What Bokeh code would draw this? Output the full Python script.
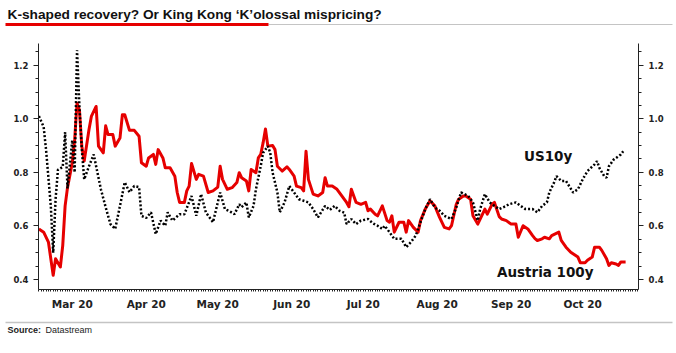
import pandas as pd
from bokeh.plotting import figure
from bokeh.layouts import column
from bokeh.models import (Range1d, LinearAxis, FixedTicker, SingleIntervalTicker,
                          PrintfTickFormatter, Label)
from bokeh.core.properties import value
from bokeh.embed import file_html
from bokeh.resources import INLINE

# ---------------- data ----------------
title_text = "K-shaped recovery? Or King Kong \u2018K\u2019olossal mispricing?"
source_label = "Source:"
source_name = "Datastream"
series_names = ["US10y", "Austria 100y"]

month_labels = ["Mar 20", "Apr 20", "May 20", "Jun 20", "Jul 20", "Aug 20", "Sep 20", "Oct 20"]
month_label_dates = ["2020-03-16", "2020-04-16", "2020-05-16", "2020-06-16",
                     "2020-07-16", "2020-08-16", "2020-09-16", "2020-10-16"]

us_dates = [
    "2020-03-02", "2020-03-04", "2020-03-05", "2020-03-07", "2020-03-08", "2020-03-09", "2020-03-10", "2020-03-12", "2020-03-13", "2020-03-14",
    "2020-03-16", "2020-03-17", "2020-03-18", "2020-03-19", "2020-03-20", "2020-03-21", "2020-03-23", "2020-03-25", "2020-03-26", "2020-03-28",
    "2020-03-30", "2020-04-01", "2020-04-03", "2020-04-05", "2020-04-07", "2020-04-09", "2020-04-11", "2020-04-13", "2020-04-14", "2020-04-16",
    "2020-04-18", "2020-04-20", "2020-04-22", "2020-04-24", "2020-04-25", "2020-04-27", "2020-04-30", "2020-05-02", "2020-05-05", "2020-05-07",
    "2020-05-09", "2020-05-11", "2020-05-14", "2020-05-17", "2020-05-19", "2020-05-21", "2020-05-23", "2020-05-25", "2020-05-26", "2020-05-28",
    "2020-05-29", "2020-05-31", "2020-06-01", "2020-06-03", "2020-06-04", "2020-06-06", "2020-06-07", "2020-06-08", "2020-06-10", "2020-06-11",
    "2020-06-13", "2020-06-15", "2020-06-17", "2020-06-19", "2020-06-21", "2020-06-23", "2020-06-25", "2020-06-27", "2020-06-30", "2020-07-02",
    "2020-07-04", "2020-07-06", "2020-07-08", "2020-07-09", "2020-07-11", "2020-07-13", "2020-07-15", "2020-07-18", "2020-07-20", "2020-07-22",
    "2020-07-24", "2020-07-25", "2020-07-27", "2020-07-29", "2020-08-01", "2020-08-03", "2020-08-05", "2020-08-07", "2020-08-09", "2020-08-11",
    "2020-08-13", "2020-08-15", "2020-08-17", "2020-08-19", "2020-08-22", "2020-08-24", "2020-08-26", "2020-08-29", "2020-08-31", "2020-09-02",
    "2020-09-03", "2020-09-05", "2020-09-07", "2020-09-09", "2020-09-11", "2020-09-14", "2020-09-15", "2020-09-18", "2020-09-20", "2020-09-22",
    "2020-09-25", "2020-09-27", "2020-09-29", "2020-10-01", "2020-10-02", "2020-10-04", "2020-10-05", "2020-10-07", "2020-10-09", "2020-10-12",
    "2020-10-14", "2020-10-16", "2020-10-18", "2020-10-21", "2020-10-22", "2020-10-23", "2020-10-25", "2020-10-26", "2020-10-27", "2020-10-29",
    "2020-10-30", "2020-11-01", "2020-11-02",
]
us10y = [
    1.01, 0.97, 0.885, 0.675, 0.50, 0.70, 0.81, 0.82, 0.95, 0.74,
    0.92, 0.80, 1.256, 1.046, 0.885, 0.774, 0.823, 0.867, 0.823, 0.737,
    0.67, 0.607, 0.589, 0.675, 0.763, 0.726, 0.749, 0.745, 0.638, 0.63,
    0.651, 0.57, 0.62, 0.601, 0.651, 0.62, 0.644, 0.644, 0.712, 0.638,
    0.719, 0.651, 0.614, 0.725, 0.663, 0.655, 0.644, 0.681, 0.67, 0.688,
    0.632, 0.675, 0.737, 0.823, 0.873, 0.898, 0.873, 0.799, 0.725, 0.651,
    0.688, 0.749, 0.725, 0.70, 0.694, 0.688, 0.663, 0.632, 0.675, 0.66,
    0.675, 0.657, 0.65, 0.607, 0.626, 0.607, 0.62, 0.626, 0.61, 0.601,
    0.589, 0.601, 0.577, 0.552, 0.552, 0.521, 0.54, 0.564, 0.614, 0.663,
    0.70, 0.669, 0.657, 0.638, 0.626, 0.669, 0.725, 0.712, 0.688, 0.62,
    0.663, 0.719, 0.688, 0.675, 0.663, 0.675, 0.681, 0.688, 0.675, 0.663,
    0.663, 0.651, 0.675, 0.688, 0.725, 0.762, 0.786, 0.768, 0.768, 0.725,
    0.737, 0.774, 0.805, 0.83, 0.842, 0.817, 0.786, 0.78, 0.823, 0.848,
    0.854, 0.867, 0.879,
]

at_dates = [
    "2020-03-02", "2020-03-04", "2020-03-06", "2020-03-07", "2020-03-08", "2020-03-09", "2020-03-11", "2020-03-12", "2020-03-13", "2020-03-14",
    "2020-03-16", "2020-03-17", "2020-03-18", "2020-03-19", "2020-03-20", "2020-03-21", "2020-03-23", "2020-03-24", "2020-03-26", "2020-03-27",
    "2020-03-29", "2020-03-30", "2020-03-31", "2020-04-02", "2020-04-03", "2020-04-05", "2020-04-06", "2020-04-07", "2020-04-09", "2020-04-11",
    "2020-04-13", "2020-04-14", "2020-04-16", "2020-04-17", "2020-04-19", "2020-04-20", "2020-04-21", "2020-04-23", "2020-04-24", "2020-04-26",
    "2020-04-28", "2020-04-29", "2020-04-30", "2020-05-02", "2020-05-03", "2020-05-04", "2020-05-05", "2020-05-07", "2020-05-08", "2020-05-10",
    "2020-05-12", "2020-05-14", "2020-05-16", "2020-05-17", "2020-05-18", "2020-05-20", "2020-05-22", "2020-05-24", "2020-05-25", "2020-05-26",
    "2020-05-28", "2020-05-29", "2020-05-30", "2020-06-01", "2020-06-02", "2020-06-03", "2020-06-04", "2020-06-05", "2020-06-06", "2020-06-08",
    "2020-06-09", "2020-06-10", "2020-06-12", "2020-06-14", "2020-06-15", "2020-06-17", "2020-06-18", "2020-06-20", "2020-06-21", "2020-06-22",
    "2020-06-23", "2020-06-25", "2020-06-27", "2020-06-29", "2020-06-30", "2020-07-01", "2020-07-03", "2020-07-05", "2020-07-07", "2020-07-09",
    "2020-07-10", "2020-07-11", "2020-07-13", "2020-07-15", "2020-07-17", "2020-07-18", "2020-07-19", "2020-07-21", "2020-07-22", "2020-07-24",
    "2020-07-26", "2020-07-27", "2020-07-28", "2020-07-29", "2020-07-31", "2020-08-02", "2020-08-03", "2020-08-04", "2020-08-06", "2020-08-08",
    "2020-08-09", "2020-08-11", "2020-08-13", "2020-08-15", "2020-08-17", "2020-08-19", "2020-08-21", "2020-08-22", "2020-08-24", "2020-08-25",
    "2020-08-27", "2020-08-28", "2020-08-30", "2020-08-31", "2020-09-02", "2020-09-03", "2020-09-05", "2020-09-06", "2020-09-08", "2020-09-09",
    "2020-09-11", "2020-09-12", "2020-09-14", "2020-09-16", "2020-09-18", "2020-09-19", "2020-09-21", "2020-09-23", "2020-09-25", "2020-09-26",
    "2020-09-27", "2020-09-29", "2020-09-30", "2020-10-02", "2020-10-03", "2020-10-06", "2020-10-07", "2020-10-09", "2020-10-11", "2020-10-14",
    "2020-10-15", "2020-10-17", "2020-10-18", "2020-10-20", "2020-10-21", "2020-10-23", "2020-10-24", "2020-10-26", "2020-10-27", "2020-10-28",
    "2020-10-30", "2020-10-31", "2020-11-01", "2020-11-03",
]
austria100y = [
    0.589, 0.577, 0.54, 0.478, 0.416, 0.478, 0.447, 0.527, 0.675, 0.743,
    0.836, 0.922, 1.058, 1.033, 0.898, 0.842, 0.959, 1.009, 1.046, 0.898,
    0.873, 0.974, 0.941, 0.941, 0.898, 0.928, 1.015, 1.015, 0.957, 0.957,
    0.935, 0.836, 0.823, 0.854, 0.867, 0.83, 0.885, 0.854, 0.817, 0.817,
    0.786, 0.725, 0.688, 0.688, 0.731, 0.749, 0.833, 0.774, 0.793, 0.786,
    0.725, 0.731, 0.745, 0.823, 0.774, 0.737, 0.743, 0.762, 0.799, 0.78,
    0.768, 0.731, 0.811, 0.799, 0.854, 0.867, 0.91, 0.962, 0.898, 0.90,
    0.885, 0.823, 0.805, 0.821, 0.811, 0.786, 0.749, 0.743, 0.731, 0.879,
    0.774, 0.719, 0.712, 0.725, 0.78, 0.749, 0.749, 0.737, 0.712, 0.688,
    0.672, 0.737, 0.688, 0.681, 0.688, 0.657, 0.663, 0.644, 0.638, 0.675,
    0.62, 0.614, 0.638, 0.577, 0.614, 0.614, 0.577, 0.62, 0.595, 0.577,
    0.62, 0.663, 0.694, 0.675, 0.632, 0.595, 0.589, 0.601, 0.681, 0.70,
    0.712, 0.712, 0.70, 0.638, 0.607, 0.626, 0.663, 0.644, 0.681, 0.688,
    0.635, 0.626, 0.62, 0.607, 0.607, 0.558, 0.601, 0.589, 0.564, 0.553,
    0.546, 0.552, 0.558, 0.552, 0.564, 0.577, 0.546, 0.521, 0.502, 0.484,
    0.463, 0.463, 0.472, 0.484, 0.521, 0.521, 0.509, 0.478, 0.453, 0.463,
    0.458, 0.453, 0.466, 0.466,
]

# ---------------- styling ----------------
RED = "#e60000"
GREY = "#c4c4c4"
W = 676
origin = pd.Timestamp("2020-03-01")


def to_days(dates):
    return list((pd.to_datetime(dates) - origin) / pd.Timedelta(days=1))


us_x = to_days(us_dates)
at_x = to_days(at_dates)
tick_x = [int(v) for v in to_days(month_label_dates)]


def strip(height):
    f = figure(width=W, height=height, x_range=Range1d(0, W), y_range=Range1d(height, 0),
               min_border=0, toolbar_location=None, output_backend="svg",
               x_axis_location=None, y_axis_location=None, frame_align=False)
    f.grid.visible = False
    f.outline_line_color = None
    return f


# ---- header strip ----
top = strip(36)
top.text(x=[7], y=[14], text=[title_text], text_font=value("Liberation Sans"),
         text_font_style="bold", text_font_size="13.7px", text_baseline="middle",
         text_color="#111111")
top.segment(x0=[268], y0=[24], x1=[672], y1=[24], line_color=GREY, line_width=1)
top.segment(x0=[5], y0=[24], x1=[268], y1=[24], line_color=RED, line_width=3)

# ---- main chart ----
p = figure(width=W, height=276, x_range=Range1d(0.84, 252.4), y_range=Range1d(0.363, 1.281),
           toolbar_location=None, output_backend="svg", frame_align=False,
           min_border_left=38, min_border_right=38, min_border_top=7, min_border_bottom=22)
p.grid.visible = False
p.outline_line_color = None

p.line(at_x, austria100y, line_color=RED, line_width=3, line_join="round")
p.line(us_x, us10y, line_color="black", line_width=2.5, line_dash="2 2")

p.add_layout(LinearAxis(), "right")
for ax in p.yaxis:
    ax.ticker = SingleIntervalTicker(interval=0.2, num_minor_ticks=4)
    ax.formatter = PrintfTickFormatter(format="%.1f")
    ax.major_tick_in = 0
    ax.major_tick_out = 5
    ax.minor_tick_in = 0
    ax.minor_tick_out = 3
    ax.major_label_standoff = 5
    ax.axis_line_color = "#222222"
    ax.major_tick_line_color = "#222222"
    ax.minor_tick_line_color = "#222222"
    ax.major_label_text_font = "DejaVu Sans"
    ax.major_label_text_font_style = "bold"
    ax.major_label_text_font_size = "8.5px"
    ax.major_label_text_color = "#222222"

xa = p.xaxis[0]
xa.ticker = FixedTicker(ticks=tick_x, minor_ticks=list(range(0, 253)))
xa.major_label_overrides = {t: lab for t, lab in zip(tick_x, month_labels)}
xa.major_tick_in = 0
xa.major_tick_out = 0
xa.minor_tick_in = 0
xa.minor_tick_out = 2
xa.major_label_standoff = 6
xa.axis_line_color = "#222222"
xa.minor_tick_line_color = "#222222"
xa.major_label_text_font = "DejaVu Sans"
xa.major_label_text_font_style = "bold"
xa.major_label_text_font_size = "10.5px"
xa.major_label_text_color = "#222222"

p.add_layout(Label(x=214.5, y=0.863, text=series_names[0], text_align="center",
                   text_baseline="middle", text_font="DejaVu Sans", text_font_style="bold",
                   text_font_size="13.5px", text_color="#111111"))
p.add_layout(Label(x=213.3, y=0.43, text=series_names[1], text_align="center",
                   text_baseline="middle", text_font="DejaVu Sans", text_font_style="bold",
                   text_font_size="13.5px", text_color="#111111"))

# ---- footer strip ----
bot = strip(41)
bot.segment(x0=[5], y0=[10], x1=[672], y1=[10], line_color=GREY, line_width=1.5)
bot.text(x=[7], y=[17], text=[source_label], text_font=value("Liberation Sans"),
         text_font_style="bold", text_font_size="9px", text_baseline="middle",
         text_color="#222222")
bot.text(x=[45], y=[17], text=[source_name], text_font=value("Liberation Sans"),
         text_font_size="9px", text_baseline="middle", text_color="#222222")

layout = column(top, p, bot, spacing=0)
open("out.html", "w").write(file_html(layout, INLINE))
